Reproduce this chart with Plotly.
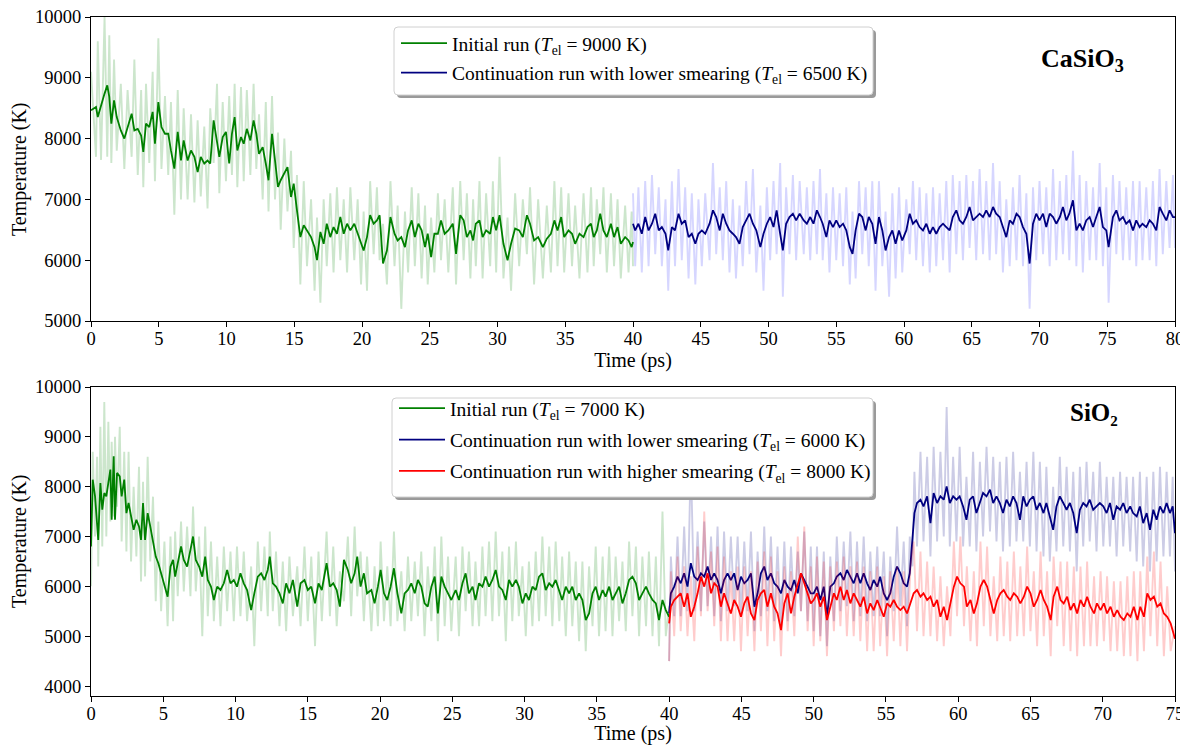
import plotly.graph_objects as go

# ---------------- CaSiO3 panel (top) ----------------
casio3_init_t = [0, 0.37, 0.5, 0.74, 1.0, 1.2, 1.35, 1.5, 1.7, 1.9,
    2.2, 2.46, 2.7, 3.0, 3.2, 3.45, 3.7, 3.86, 4.06, 4.3,
    4.55, 4.72, 4.97, 5.2, 5.46, 5.7, 5.9, 6.15, 6.4, 6.64,
    6.84, 7.13, 7.38, 7.63, 7.87, 8.1, 8.36, 8.6, 8.8, 9.05,
    9.3, 9.47, 9.72, 9.96, 10.2, 10.4, 10.6, 10.8, 11.07, 11.27,
    11.5, 11.76, 12.0, 12.2, 12.4, 12.67, 12.9, 13.1, 13.36, 13.58,
    13.8, 14.0, 14.27, 14.5, 14.76, 14.96, 15.2, 15.45, 15.7, 15.94,
    16.24, 16.5, 16.68, 16.93, 17.17, 17.4, 17.66, 17.9, 18.15, 18.4,
    18.65, 18.9, 19.14, 19.43, 19.68, 19.93, 20.12, 20.37, 20.6, 20.86,
    21.1, 21.3, 21.55, 21.84, 22.1, 22.4, 22.63, 22.9, 23.17, 23.4,
    23.67, 23.9, 24.16, 24.4, 24.65, 24.85, 25.1, 25.34, 25.6, 25.83,
    26.1, 26.37, 26.7, 26.94, 27.25, 27.5, 27.74, 28.0, 28.2, 28.4,
    28.67, 28.9, 29.16, 29.46, 29.66, 29.9, 30.15, 30.44, 30.74, 31.0,
    31.3, 31.6, 31.87, 32.17, 32.4, 32.7, 33.0, 33.35, 33.64, 33.94,
    34.2, 34.43, 34.7, 34.92, 35.24, 35.5, 35.73, 36.05, 36.35, 36.64,
    36.9, 37.1, 37.33, 37.58, 37.82, 38.07, 38.37, 38.6, 38.86, 39.1,
    39.42, 39.67, 39.9, 40.0]
casio3_init_smooth = [8465, 8520, 8355, 8550, 8740, 8875, 8685, 8245, 8630, 8355,
    8135, 8000, 8190, 8410, 8135, 8160, 8050, 7780, 8245, 8190,
    8440, 7915, 8600, 8190, 8080, 8080, 7805, 7505, 8110, 7640,
    7970, 7640, 7805, 7700, 7450, 7700, 7590, 7640, 7590, 8300,
    7945, 7700, 8025, 8110, 7590, 8080, 8355, 7805, 8025, 7915,
    8160, 7970, 8300, 8080, 7750, 7860, 7590, 7315, 8080, 7590,
    7205, 7315, 7425, 7530, 7040, 7260, 6820, 6380, 6575, 6490,
    6380, 6215, 6000, 6465, 6270, 6600, 6380, 6545, 6435, 6710,
    6435, 6600, 6490, 6600, 6435, 6270, 6160, 6380, 6740, 6600,
    6655, 6740, 5945, 6160, 6710, 6435, 6325, 6380, 6215, 6490,
    6655, 6380, 6600, 6490, 6215, 6435, 6050, 6435, 6435, 6655,
    6435, 6490, 6600, 6105, 6740, 6655, 6380, 6490, 6325, 6600,
    6655, 6380, 6490, 6435, 6710, 6490, 6740, 6270, 6000, 6270,
    6520, 6490, 6380, 6740, 6600, 6325, 6380, 6215, 6355, 6435,
    6655, 6490, 6710, 6380, 6490, 6435, 6270, 6435, 6380, 6545,
    6600, 6380, 6490, 6765, 6490, 6380, 6600, 6380, 6545, 6270,
    6380, 6325, 6215, 6300]
casio3_init_raw = [9100, 7700, 9600, 7650, 10000, 7700, 9700, 7600, 9300, 7800,
    8900, 7500, 8800, 7700, 9300, 7400, 8800, 7200, 8900, 7600,
    9100, 7300, 9650, 7500, 8700, 7400, 8600, 6750, 8800, 7000,
    8500, 7000, 8400, 6950, 8300, 7050, 8200, 6850, 8500, 7600,
    8900, 7100, 8600, 7300, 8700, 7400, 8900, 7200, 8850, 7300,
    8800, 7400, 8900, 7500, 8400, 7000, 8600, 6800, 8700, 7000,
    8100, 6500, 8000, 6800, 7800, 6200, 7400, 5600, 7300, 5900,
    7000, 5500, 6700, 5300, 7000, 5900, 7100, 5800, 7200, 6000,
    7000, 5800, 7200, 6000, 7000, 5600, 6800, 5500, 7300, 6100,
    7200, 6000, 6600, 5600, 7300, 5900, 6900, 5200, 6800, 5800,
    7200, 5900, 7100, 5700, 6900, 5600, 6700, 5800, 7100, 6000,
    7000, 5800, 7200, 5600, 7300, 6000, 7100, 5700, 7000, 5900,
    7300, 5700, 7100, 5900, 7300, 5800, 7700, 5700, 6700, 5500,
    7100, 5900, 7000, 6100, 7200, 5600, 7000, 5700, 6900, 5800,
    7300, 5900, 7200, 5800, 7100, 5900, 6900, 5700, 7100, 5800,
    7200, 5900, 7000, 6100, 7200, 5800, 7100, 5900, 7000, 5700,
    6900, 5800, 6800, 5900]

casio3_low_t = [40.0, 40.16, 40.4, 40.65, 40.9, 41.15, 41.4, 41.64, 41.9, 42.13,
    42.4, 42.6, 42.87, 43.1, 43.36, 43.6, 43.85, 44.1, 44.34, 44.6,
    44.83, 45.08, 45.33, 45.65, 45.9, 46.14, 46.4, 46.63, 46.88, 47.12,
    47.37, 47.6, 47.86, 48.1, 48.35, 48.6, 48.85, 49.1, 49.4, 49.63,
    49.88, 50.12, 50.37, 50.6, 50.86, 51.06, 51.3, 51.55, 51.8, 52.04,
    52.3, 52.6, 52.83, 53.08, 53.32, 53.57, 53.8, 54.0, 54.27, 54.5,
    54.76, 55.0, 55.25, 55.5, 55.74, 56.0, 56.2, 56.43, 56.68, 56.92,
    57.17, 57.4, 57.66, 57.9, 58.15, 58.4, 58.64, 58.9, 59.14, 59.38,
    59.63, 59.87, 60.17, 60.42, 60.66, 60.9, 61.15, 61.4, 61.65, 61.9,
    62.14, 62.38, 62.63, 62.88, 63.12, 63.37, 63.6, 63.86, 64.1, 64.35,
    64.6, 64.84, 65.09, 65.33, 65.58, 65.83, 66.07, 66.32, 66.57, 66.8,
    67.06, 67.3, 67.55, 67.8, 68.04, 68.3, 68.53, 68.78, 69.03, 69.27,
    69.52, 69.76, 70.0, 70.26, 70.5, 70.75, 71.0, 71.24, 71.5, 71.73,
    71.98, 72.2, 72.47, 72.72, 72.96, 73.2, 73.45, 73.7, 73.95, 74.19,
    74.44, 74.68, 74.93, 75.1, 75.42, 75.67, 75.9, 76.16, 76.4, 76.65,
    76.9, 77.14, 77.39, 77.6, 77.88, 78.13, 78.37, 78.62, 78.86, 79.1,
    79.36, 79.6, 79.85, 80.0]
casio3_low_smooth = [6600, 6490, 6600, 6435, 6710, 6490, 6600, 6765, 6490, 6545,
    6435, 6160, 6545, 6490, 6765, 6600, 6655, 6380, 6435, 6270,
    6435, 6490, 6435, 6600, 6820, 6710, 6490, 6765, 6600, 6490,
    6435, 6380, 6270, 6545, 6655, 6765, 6600, 6490, 6215, 6435,
    6600, 6710, 6545, 6820, 6435, 6160, 6600, 6710, 6765, 6655,
    6765, 6655, 6600, 6710, 6600, 6820, 6710, 6600, 6380, 6655,
    6545, 6655, 6545, 6600, 6490, 6215, 6105, 6490, 6765, 6710,
    6490, 6710, 6600, 6270, 6710, 6490, 6160, 6380, 6490, 6270,
    6490, 6325, 6490, 6765, 6600, 6655, 6545, 6490, 6600, 6435,
    6545, 6435, 6545, 6600, 6545, 6490, 6710, 6820, 6655, 6600,
    6710, 6875, 6655, 6710, 6765, 6710, 6820, 6710, 6875, 6765,
    6710, 6545, 6380, 6655, 6600, 6765, 6710, 6545, 6435, 5945,
    6600, 6765, 6655, 6765, 6545, 6765, 6710, 6600, 6710, 6875,
    6655, 6765, 6985, 6490, 6600, 6490, 6655, 6710, 6545, 6710,
    6875, 6545, 6490, 6215, 6710, 6820, 6655, 6710, 6600, 6655,
    6490, 6655, 6545, 6600, 6545, 6655, 6600, 6490, 6875, 6765,
    6655, 6820, 6710, 6710]
casio3_low_raw = [7100, 5900, 7200, 5800, 7300, 5900, 7400, 6100, 7200, 5900,
    7000, 5500, 7300, 5900, 7500, 6000, 7200, 5700, 7100, 5600,
    7000, 5900, 7100, 6000, 7600, 6100, 7200, 6000, 7300, 5800,
    7000, 5700, 6900, 5900, 7300, 6100, 7500, 5800, 6900, 5500,
    7200, 6000, 7300, 6100, 7600, 5400, 7200, 6100, 7400, 6000,
    7300, 6100, 7200, 6000, 7300, 6100, 7500, 6000, 7100, 5800,
    7200, 6000, 7100, 5900, 7200, 5600, 6800, 5700, 7300, 6100,
    7200, 5900, 7300, 5500, 7300, 5900, 6800, 5400, 7100, 5700,
    7200, 5800, 7000, 6100, 7300, 6000, 7200, 5900, 7100, 5800,
    7200, 5900, 7100, 6000, 7300, 5800, 7400, 6100, 7300, 6000,
    7400, 6200, 7300, 6000, 7500, 6100, 7300, 6000, 7600, 6100,
    7300, 5800, 7000, 5900, 7200, 6000, 7400, 5900, 7100, 5200,
    7200, 6000, 7300, 6100, 7200, 5900, 7500, 6000, 7300, 6100,
    7400, 6000, 7800, 5900, 7400, 5800, 7300, 6000, 7200, 6000,
    7600, 5900, 7200, 5300, 7400, 6100, 7300, 6000, 7200, 6000,
    7300, 5900, 7300, 6000, 7200, 6000, 7300, 5900, 7500, 6100,
    7300, 6200, 7400, 6200]

# ---------------- SiO2 panel (bottom) ----------------
sio2_init_t = [0, 0.12, 0.28, 0.42, 0.5, 0.65, 0.78, 0.92, 1.06, 1.2,
    1.34, 1.43, 1.57, 1.66, 1.8, 1.99, 2.12, 2.3, 2.45, 2.6,
    2.77, 2.95, 3.14, 3.32, 3.46, 3.6, 3.74, 3.92, 4.1, 4.29,
    4.48, 4.66, 4.85, 5.08, 5.3, 5.5, 5.68, 5.82, 6.0, 6.23,
    6.42, 6.65, 6.88, 7.06, 7.25, 7.48, 7.7, 7.9, 8.08, 8.3,
    8.5, 8.73, 8.96, 9.19, 9.42, 9.65, 9.88, 10.1, 10.34, 10.57,
    10.8, 11.08, 11.3, 11.54, 11.77, 12.0, 12.23, 12.37, 12.58, 12.8,
    13.04, 13.27, 13.5, 13.73, 13.97, 14.27, 14.5, 14.77, 15.0, 15.24,
    15.5, 15.74, 15.97, 16.3, 16.53, 16.76, 17.0, 17.22, 17.5, 17.77,
    18.0, 18.24, 18.42, 18.65, 18.88, 19.1, 19.4, 19.62, 19.85, 20.04,
    20.27, 20.5, 20.73, 20.96, 21.2, 21.47, 21.7, 21.93, 22.16, 22.4,
    22.62, 22.85, 23.08, 23.3, 23.55, 23.78, 24.0, 24.24, 24.47, 24.7,
    24.93,
    25.23, 25.46, 25.7, 25.92, 26.15, 26.4, 26.6, 26.85, 27.08, 27.3,
    27.54, 27.77, 28.0, 28.23, 28.46, 28.7, 28.92, 29.15, 29.4, 29.6,
    29.85, 30.08, 30.3, 30.54, 30.77, 31.0, 31.23, 31.46, 31.7, 31.92,
    32.15, 32.4, 32.6, 32.85, 33.08, 33.3, 33.54, 33.77, 34.0, 34.23,
    34.46, 34.7, 34.92, 35.15, 35.4, 35.6, 35.85, 36.08, 36.3, 36.54,
    36.77, 37.0, 37.23, 37.46, 37.7, 37.92, 38.15, 38.4, 38.6, 38.85,
    39.08, 39.3, 39.54, 39.77, 40.0]
sio2_init_smooth = [6800, 8141, 7806, 7135, 6933, 8074, 7537, 7873, 7806, 8074,
    8343, 7336, 8611, 7336, 8276, 8208, 7806, 8141, 7470, 7672,
    7403, 7135, 7336, 7202, 6933, 7672, 6933, 7470, 7202, 6866,
    6598, 6464, 6262, 6061, 5793, 6397, 6531, 6195, 6464, 6799,
    6531, 6397, 6732, 7000, 6531, 6397, 6195, 6598, 6128, 5994,
    5726, 5994, 5927, 6061, 6330, 6061, 6128, 5994, 6262, 6061,
    5927, 5524, 5860, 6195, 6262, 6128, 6330, 6598, 6061, 5994,
    5860, 5659, 6061, 5860, 6128, 5592, 6061, 6128, 5927, 5994,
    5659, 6061, 5927, 6464, 5994, 6061, 5927, 5592, 6531, 6330,
    6061, 6262, 6598, 5994, 6262, 5860, 5927, 5659, 5994, 6330,
    5860, 5726, 5994, 6363, 5860, 5457, 5860, 5927, 6061, 5860,
    6128, 5994, 5659, 5592, 5994, 6195, 5457, 6195, 5994, 5860,
    5726,
    5927, 5726, 6061, 6262, 5860, 5994, 5726, 6061, 5994, 6195,
    5994, 6128, 6330, 5994, 5927, 5726, 6128, 5994, 6128, 5994,
    5659, 5860, 5726, 5994, 5927, 6195, 6262, 5927, 6061, 5994,
    6128, 5927, 5726, 5994, 5860, 5994, 5726, 5860, 5726, 5323,
    5457, 5860, 5994, 5726, 5927, 5793, 5994, 5726, 5860, 5994,
    5659, 5860, 6128, 6195, 6061, 5726, 5860, 5994, 5860, 5726,
    5659, 5323, 5726, 5524, 5390]
sio2_init_raw = [6000, 8700, 7000, 8600, 6400, 9200, 6800, 9700, 7000, 9300,
    7300, 8900, 7400, 9000, 7600, 9200, 6900, 8700, 6700, 8700,
    6500, 8000, 6600, 8400, 6100, 8100, 6200, 8600, 6500, 7800,
    5700, 7300, 5500, 6900, 5200, 7000, 5300, 7100, 5800, 7300,
    5900, 7200, 5800, 7600, 5900, 7000, 5000, 7200, 5400, 6900,
    5300, 6600, 5200, 6800, 5500, 6700, 5300, 6800, 5400, 6700,
    5300, 6400, 4800, 6900, 5500, 6800, 5400, 7100, 5500, 6700,
    5200, 6500, 5100, 6600, 5400, 6400, 5200, 6800, 5300, 6600,
    4800, 6700, 5300, 7100, 5400, 6800, 5200, 6300, 5700, 7000,
    5400, 7200, 5800, 6700, 5300, 6600, 5100, 6400, 5200, 6900,
    5300, 6400, 5200, 7100, 5300, 6300, 5100, 6600, 5300, 6500,
    5400, 6700, 5000, 6400, 5300, 6800, 4900, 7000, 5200, 6600,
    5100,
    6600, 5000, 6800, 5500, 6700, 5200, 6500, 5200, 6800, 5400,
    6900, 5300, 7100, 5400, 6700, 4900, 6800, 5300, 6900, 5400,
    6400, 5000, 6500, 5200, 6700, 5300, 7000, 5400, 6800, 5200,
    6900, 5300, 6600, 5000, 6700, 5200, 6500, 4900, 6500, 4700,
    6400, 5200, 6800, 5000, 6600, 5100, 6800, 5000, 6600, 5300,
    6500, 5100, 6900, 5400, 6800, 5000, 6600, 5200, 6700, 5000,
    6600, 4800, 7500, 5000, 5600]

sio2_low_t = [40.0, 40.12, 40.35, 40.58, 40.8, 41.04, 41.27, 41.5, 41.74, 41.97,
    42.2, 42.43, 42.66, 42.9, 43.12, 43.35, 43.58, 43.8, 44.04, 44.27,
    44.5, 44.74, 44.97, 45.2, 45.43, 45.66, 45.9, 46.12, 46.35, 46.58,
    46.8, 47.04, 47.27, 47.5, 47.74, 47.97, 48.2, 48.43, 48.66, 48.9,
    49.12, 49.35, 49.58, 49.8,
    50.0, 50.23, 50.46, 50.7, 50.92, 51.15, 51.4, 51.6, 51.85, 52.08,
    52.3, 52.54, 52.77, 53.0, 53.23, 53.46, 53.7, 53.92, 54.15, 54.4,
    54.6, 54.85, 55.08, 55.3, 55.54, 55.77, 56.0, 56.23, 56.46, 56.65,
    56.83, 56.97, 57.15, 57.39, 57.6, 57.85, 58.08, 58.3, 58.54, 58.77,
    59.0, 59.2, 59.42, 59.65, 59.88, 60.1, 60.34, 60.57, 60.8, 61.03,
    61.26, 61.5, 61.72, 61.96, 62.2, 62.42, 62.65, 62.88, 63.1, 63.34,
    63.57, 63.8, 64.03, 64.27, 64.5, 64.73, 64.96, 65.2, 65.42, 65.65,
    65.9, 66.1, 66.34, 66.57, 66.8, 67.03, 67.27, 67.5, 67.73, 67.96,
    68.2, 68.42, 68.65, 68.88, 69.1, 69.34, 69.57, 69.8, 70.04, 70.27,
    70.5, 70.73, 70.96, 71.2, 71.42, 71.65, 71.9, 72.1, 72.35, 72.57,
    72.8, 73.04, 73.27, 73.5, 73.73, 73.96, 74.2, 74.42, 74.65, 74.84,
    75.0]
sio2_low_smooth = [5457, 5860, 5994, 6195, 6061, 6262, 5994, 6464, 6195, 6128,
    6262, 6195, 6397, 6128, 6262, 6128, 5860, 6128, 6262, 6128,
    6262, 5927, 6195, 6061, 6128, 6262, 5592, 5860, 6262, 6397,
    6128, 6262, 6061, 5994, 5860, 6128, 5994, 5927, 6128, 5860,
    6262, 6128, 5994, 5860,
    5860, 5994, 5726, 5994, 5390, 5994, 6061, 6195, 6262, 6128,
    6330, 6195, 6061, 6262, 6061, 6262, 6061, 5927, 6128, 5994,
    6195, 5860, 5726, 5860, 6195, 6397, 6262, 6061, 5994, 6262,
    6933, 7470, 7672, 7739, 7604, 7806, 7269, 7873, 7672, 7806,
    7739, 8007, 7672, 7806, 7739, 7806, 7604, 7336, 7739, 7806,
    7470, 7672, 7873, 7806, 7940, 7672, 7806, 7672, 7470, 7739,
    7604, 7806, 7672, 7336, 7806, 7604, 7739, 7806, 7537, 7672,
    7470, 7672, 7403, 7135, 7604, 7806, 7672, 7537, 7672, 7470,
    7068, 7537, 7672, 7604, 7739, 7537, 7604, 7672, 7604, 7470,
    7672, 7336, 7604, 7537, 7672, 7470, 7604, 7470, 7403, 7604,
    7269, 7470, 7135, 7537, 7336, 7604, 7470, 7672, 7470, 7604,
    7068]
sio2_low_raw = [4500, 6600, 5400, 7000, 5400, 7200, 5500, 8600, 5500, 7100,
    5500, 7300, 5600, 7000, 5400, 7200, 5300, 7100, 5500, 7000,
    5600, 7000, 5400, 6900, 5500, 7100, 5100, 6700, 5400, 7200,
    5500, 7000, 5300, 6800, 5200, 6900, 5300, 6800, 5400, 6700,
    5500, 7100, 5300, 6800,
    5100, 6800, 5000, 6700, 4800, 6600, 5300, 7000, 5500, 6900,
    5600, 7100, 5300, 6900, 5400, 7000, 5300, 6700, 5400, 6800,
    5400, 6700, 5000, 6600, 5500, 7200, 5600, 6900, 5200, 7000,
    6400, 8300, 6800, 8700, 6900, 8600, 6600, 8800, 6900, 8700,
    7000, 9600, 6800, 8600, 6900, 8800, 6800, 8200, 6800, 8700,
    6700, 8500, 7000, 8800, 7100, 8600, 6900, 8500, 6700, 8600,
    6800, 8700, 6900, 8300, 6900, 8500, 6800, 8700, 6700, 8500,
    6600, 8400, 6500, 8000, 6700, 8600, 6800, 8400, 6700, 8300,
    6300, 8400, 6800, 8500, 6900, 8300, 6700, 8500, 6800, 8200,
    6800, 8200, 6600, 8300, 6800, 8200, 6700, 8200, 6500, 8300,
    6400, 8200, 6300, 8300, 6500, 8400, 6600, 8300, 6600, 8200,
    6300]

sio2_high_t = [40.0, 40.12, 40.35, 40.58, 40.8, 41.04, 41.27, 41.5, 41.74, 41.97,
    42.2, 42.43, 42.66, 42.9, 43.12, 43.35, 43.58, 43.8, 44.04, 44.27,
    44.5, 44.74, 44.97, 45.2, 45.43, 45.66, 45.9, 46.12, 46.35, 46.58,
    46.8, 47.04, 47.27, 47.5, 47.74, 47.97, 48.2, 48.43, 48.66, 48.9,
    49.12, 49.35, 49.58, 49.8,
    50.0, 50.23, 50.46, 50.7, 50.92, 51.15, 51.4, 51.6, 51.85, 52.08,
    52.3, 52.54, 52.77, 53.0, 53.23, 53.46, 53.7, 53.92, 54.15, 54.4,
    54.6, 54.85, 55.08, 55.3, 55.54, 55.77, 56.0, 56.23, 56.46, 56.7,
    56.92, 57.15, 57.39, 57.6, 57.85, 58.08, 58.3, 58.54, 58.77, 59.0,
    59.23, 59.46, 59.7, 59.92, 60.15, 60.4, 60.6, 60.85, 61.08, 61.3,
    61.54, 61.77, 62.0, 62.23, 62.46, 62.7, 62.92, 63.15, 63.4, 63.6,
    63.85, 64.08, 64.3, 64.54, 64.77, 65.0, 65.23, 65.46, 65.7, 65.92,
    66.15, 66.4, 66.6, 66.85, 67.08, 67.3, 67.54, 67.77, 68.0, 68.23,
    68.46, 68.7, 68.92, 69.15, 69.4, 69.6, 69.85, 70.08, 70.3, 70.54,
    70.77, 71.0, 71.23, 71.46, 71.7, 71.92, 72.15, 72.4, 72.6, 72.85,
    73.08, 73.3, 73.54, 73.77, 74.0, 74.23, 74.46, 74.7, 75.0]
sio2_high_smooth = [5256, 5592, 5726, 5793, 5860, 5592, 5860, 5390, 5592, 5860,
    6195, 5994, 6262, 5860, 6061, 5994, 5592, 5860, 5659, 5457,
    5726, 5592, 5390, 5659, 5793, 5457, 5323, 5726, 5860, 5927,
    5592, 5860, 5592, 5457, 5121, 5659, 5860, 5457, 5793, 6061,
    6262, 6061, 5860, 5659,
    5726, 5860, 5592, 5793, 5323, 5592, 5860, 5726, 5994, 5726,
    5927, 5659, 5860, 5726, 5592, 5793, 5457, 5659, 5524, 5726,
    5592, 5390, 5659, 5592, 5726, 5592, 5524, 5592, 5457, 5659,
    5860, 5927, 5793, 5860, 5726, 5793, 5592, 5726, 5390, 5592,
    5323, 5659, 5994, 6195, 6061, 5994, 5592, 5726, 5457, 5659,
    5994, 6128, 5994, 5726, 5457, 5726, 5860, 5927, 5793, 5726,
    5860, 5793, 5659, 5793, 5994, 5860, 5592, 5726, 5927, 5726,
    5592, 5323, 5793, 5994, 5726, 5659, 5793, 5524, 5659, 5457,
    5726, 5592, 5793, 5592, 5457, 5659, 5524, 5659, 5457, 5592,
    5390, 5524, 5390, 5323, 5457, 5390, 5592, 5323, 5592, 5390,
    5860, 5726, 5793, 5592, 5659, 5457, 5390, 5256, 4950]
sio2_high_raw = [4500, 6300, 5000, 6600, 5100, 6400, 5000, 6200, 4900, 6800,
    5400, 7500, 5500, 6700, 5200, 6800, 4900, 6600, 4900, 6300,
    4900, 6400, 4700, 6400, 5000, 6300, 4700, 6500, 5100, 6700,
    4800, 6600, 4900, 6300, 4600, 6400, 5100, 6300, 5000, 7000,
    5500, 7200, 5100, 6400,
    4800, 6600, 4900, 6500, 4600, 6400, 5100, 6500, 5200, 6600,
    5000, 6400, 5000, 6500, 4900, 6400, 4700, 6300, 4700, 6400,
    4800, 6200, 4600, 6300, 4900, 6400, 4800, 6300, 4700, 6400,
    6900, 5100, 6700, 5000, 6500, 5000, 6400, 4900, 6200, 4800,
    6000, 5000, 6900, 5400, 7000, 5200, 6400, 4900, 6300, 4800,
    6900, 5200, 6800, 5000, 6200, 4900, 6600, 5000, 6500, 4900,
    6700, 5000, 6400, 5000, 6800, 5100, 6300, 4800, 6700, 5000,
    6300, 4600, 6600, 5200, 6500, 4800, 6500, 4700, 6400, 4600,
    6400, 4800, 6500, 4800, 6200, 4800, 6300, 4900, 6200, 4700,
    6100, 4700, 6100, 4600, 6200, 4600, 6300, 4500, 6300, 4700,
    6600, 5000, 6700, 4800, 6500, 4600, 6000, 4700, 5200]

top_yticks = [5000, 6000, 7000, 8000, 9000, 10000]
bottom_yticks = [4000, 5000, 6000, 7000, 8000, 9000, 10000]

for a, b, c in [(casio3_init_t, casio3_init_smooth, casio3_init_raw),
                (casio3_low_t, casio3_low_smooth, casio3_low_raw),
                (sio2_init_t, sio2_init_smooth, sio2_init_raw),
                (sio2_low_t, sio2_low_smooth, sio2_low_raw),
                (sio2_high_t, sio2_high_smooth, sio2_high_raw)]:
    assert len(a) == len(b) == len(c), (len(a), len(b), len(c))

# ---------------- layout helpers ----------------
# the page body has an 8px margin, so the figure is drawn 8px in from the
# top-left corner; all positions below are given in screen pixels.
OFF = 8
W, H = 1188 - OFF, 745 - OFF
ML, MR, MT, MB = 91 - OFF, 13, 17 - OFF, 49
PW, PH = W - ML - MR, H - MT - MB
def px_x(x):
    return (x - OFF - ML) / PW
def px_y(y):
    return (H - MB - (y - OFF)) / PH

FONT = "Liberation Serif, Times New Roman, serif"
GREEN, NAVY, RED = "#008000", "#000080", "#ff0000"

fig = go.Figure()

def add(x, y, color, width, yaxis, name=None, legend=None, show=False):
    fig.add_trace(go.Scatter(
        x=x, y=y, mode="lines", line=dict(color=color, width=width),
        xaxis="x" if yaxis == "y" else "x2", yaxis=yaxis,
        name=name, showlegend=show, legend=legend, hoverinfo="skip",
        legendgroup=name))

RAW_W = 1.9
# top panel
add(casio3_init_t, casio3_init_raw, "rgba(0,128,0,0.2)", RAW_W, "y")
add(casio3_init_t, casio3_init_smooth, GREEN, 1.8, "y",
    "Initial run (<i>T</i><sub>el</sub> = 9000 K)", "legend", True)
add(casio3_low_t, casio3_low_raw, "rgba(0,0,255,0.16)", RAW_W, "y")
add(casio3_low_t, casio3_low_smooth, NAVY, 1.8, "y",
    "Continuation run with lower smearing (<i>T</i><sub>el</sub> = 6500 K)", "legend", True)

# bottom panel
add(sio2_init_t, sio2_init_raw, "rgba(0,128,0,0.2)", RAW_W, "y2")
add(sio2_init_t, sio2_init_smooth, GREEN, 1.8, "y2",
    "Initial run (<i>T</i><sub>el</sub> = 7000 K)", "legend2", True)
add(sio2_low_t, sio2_low_raw, "rgba(0,0,128,0.2)", RAW_W, "y2")
add(sio2_low_t, sio2_low_smooth, NAVY, 1.8, "y2",
    "Continuation run with lower smearing (<i>T</i><sub>el</sub> = 6000 K)", "legend2", True)
add(sio2_high_t, sio2_high_raw, "rgba(255,0,0,0.2)", RAW_W, "y2")
add(sio2_high_t, sio2_high_smooth, RED, 1.8, "y2",
    "Continuation run with higher smearing (<i>T</i><sub>el</sub> = 8000 K)", "legend2", True)

axis_common = dict(showline=True, linecolor="black", linewidth=1, mirror=True,
                   ticks="outside", ticklen=5, tickwidth=1, tickcolor="black",
                   showgrid=False, zeroline=False, automargin=False,
                   tickformat="d", ticklabeloverflow="allow",
                   tickfont=dict(family=FONT, size=18.5, color="black"))
title_font = dict(family=FONT, size=20, color="black")

def rounded_box(x0, y0, x1, y1, r=4):
    X0, X1 = px_x(x0), px_x(x1)
    Y0, Y1 = px_y(y0), px_y(y1)
    rx, ry = r / PW, r / PH
    return (f"M{X0+rx},{Y0} L{X1-rx},{Y0} Q{X1},{Y0} {X1},{Y0-ry} "
            f"L{X1},{Y1+ry} Q{X1},{Y1} {X1-rx},{Y1} L{X0+rx},{Y1} "
            f"Q{X0},{Y1} {X0},{Y1+ry} L{X0},{Y0-ry} Q{X0},{Y0} {X0+rx},{Y0} Z")

shapes = []
for (x0, y0, x1, y1) in [(394, 27, 873, 95), (392, 398, 873, 497)]:
    shapes.append(dict(type="path", xref="paper", yref="paper",
                       path=rounded_box(x0 + 3, y0 + 3, x1 + 3, y1 + 3),
                       fillcolor="#9a9a9a", line=dict(width=0), layer="above"))
    shapes.append(dict(type="path", xref="paper", yref="paper",
                       path=rounded_box(x0, y0, x1, y1),
                       fillcolor="white", line=dict(color="#d0d0d0", width=1),
                       layer="above"))

legend_common = dict(bgcolor="rgba(0,0,0,0)", borderwidth=0,
                     font=dict(family=FONT, size=19.5, color="black"),
                     xanchor="left", yanchor="top", itemwidth=46)

fig.update_layout(
    width=W, height=H, paper_bgcolor="white", plot_bgcolor="white",
    margin=dict(l=ML, r=MR, t=MT, b=MB, autoexpand=False),
    showlegend=True,
    xaxis=dict(axis_common, range=[0, 80], dtick=5, anchor="y",
               domain=[0, 1], ticklabelstandoff=-4,
               title=dict(text="Time (ps)", font=title_font, standoff=0)),
    yaxis=dict(axis_common, range=[5000, 10000], tickvals=top_yticks, anchor="x",
               domain=[px_y(321), 1]),
    xaxis2=dict(axis_common, range=[0, 75], dtick=5, anchor="y2",
                domain=[0, 1], ticklabelstandoff=-4,
                title=dict(text="Time (ps)", font=title_font, standoff=2)),
    yaxis2=dict(axis_common, range=[3800, 10000], tickvals=bottom_yticks,
                anchor="x2", domain=[0, px_y(387)]),
    legend=dict(legend_common, x=px_x(396), y=px_y(24), tracegroupgap=1),
    legend2=dict(legend_common, x=px_x(394), y=px_y(389), tracegroupgap=3),
    shapes=shapes,
    annotations=[
        dict(text="Temperature (K)", xref="paper", yref="paper",
             x=px_x(19), y=px_y(169), xanchor="center", yanchor="middle",
             textangle=-90, showarrow=False, font=title_font),
        dict(text="Temperature (K)", xref="paper", yref="paper",
             x=px_x(19), y=px_y(541), xanchor="center", yanchor="middle",
             textangle=-90, showarrow=False, font=title_font),
        dict(text="<b>CaSiO<sub>3</sub></b>", xref="paper", yref="paper",
             x=px_x(1082), y=px_y(60), xanchor="center", yanchor="middle",
             showarrow=False, font=dict(family=FONT, size=26, color="black")),
        dict(text="<b>SiO₂</b>", xref="paper", yref="paper",
             x=px_x(1094), y=px_y(413), xanchor="center", yanchor="middle",
             showarrow=False, font=dict(family=FONT, size=25, color="black")),
    ],
)

fig.write_html("out.html")
